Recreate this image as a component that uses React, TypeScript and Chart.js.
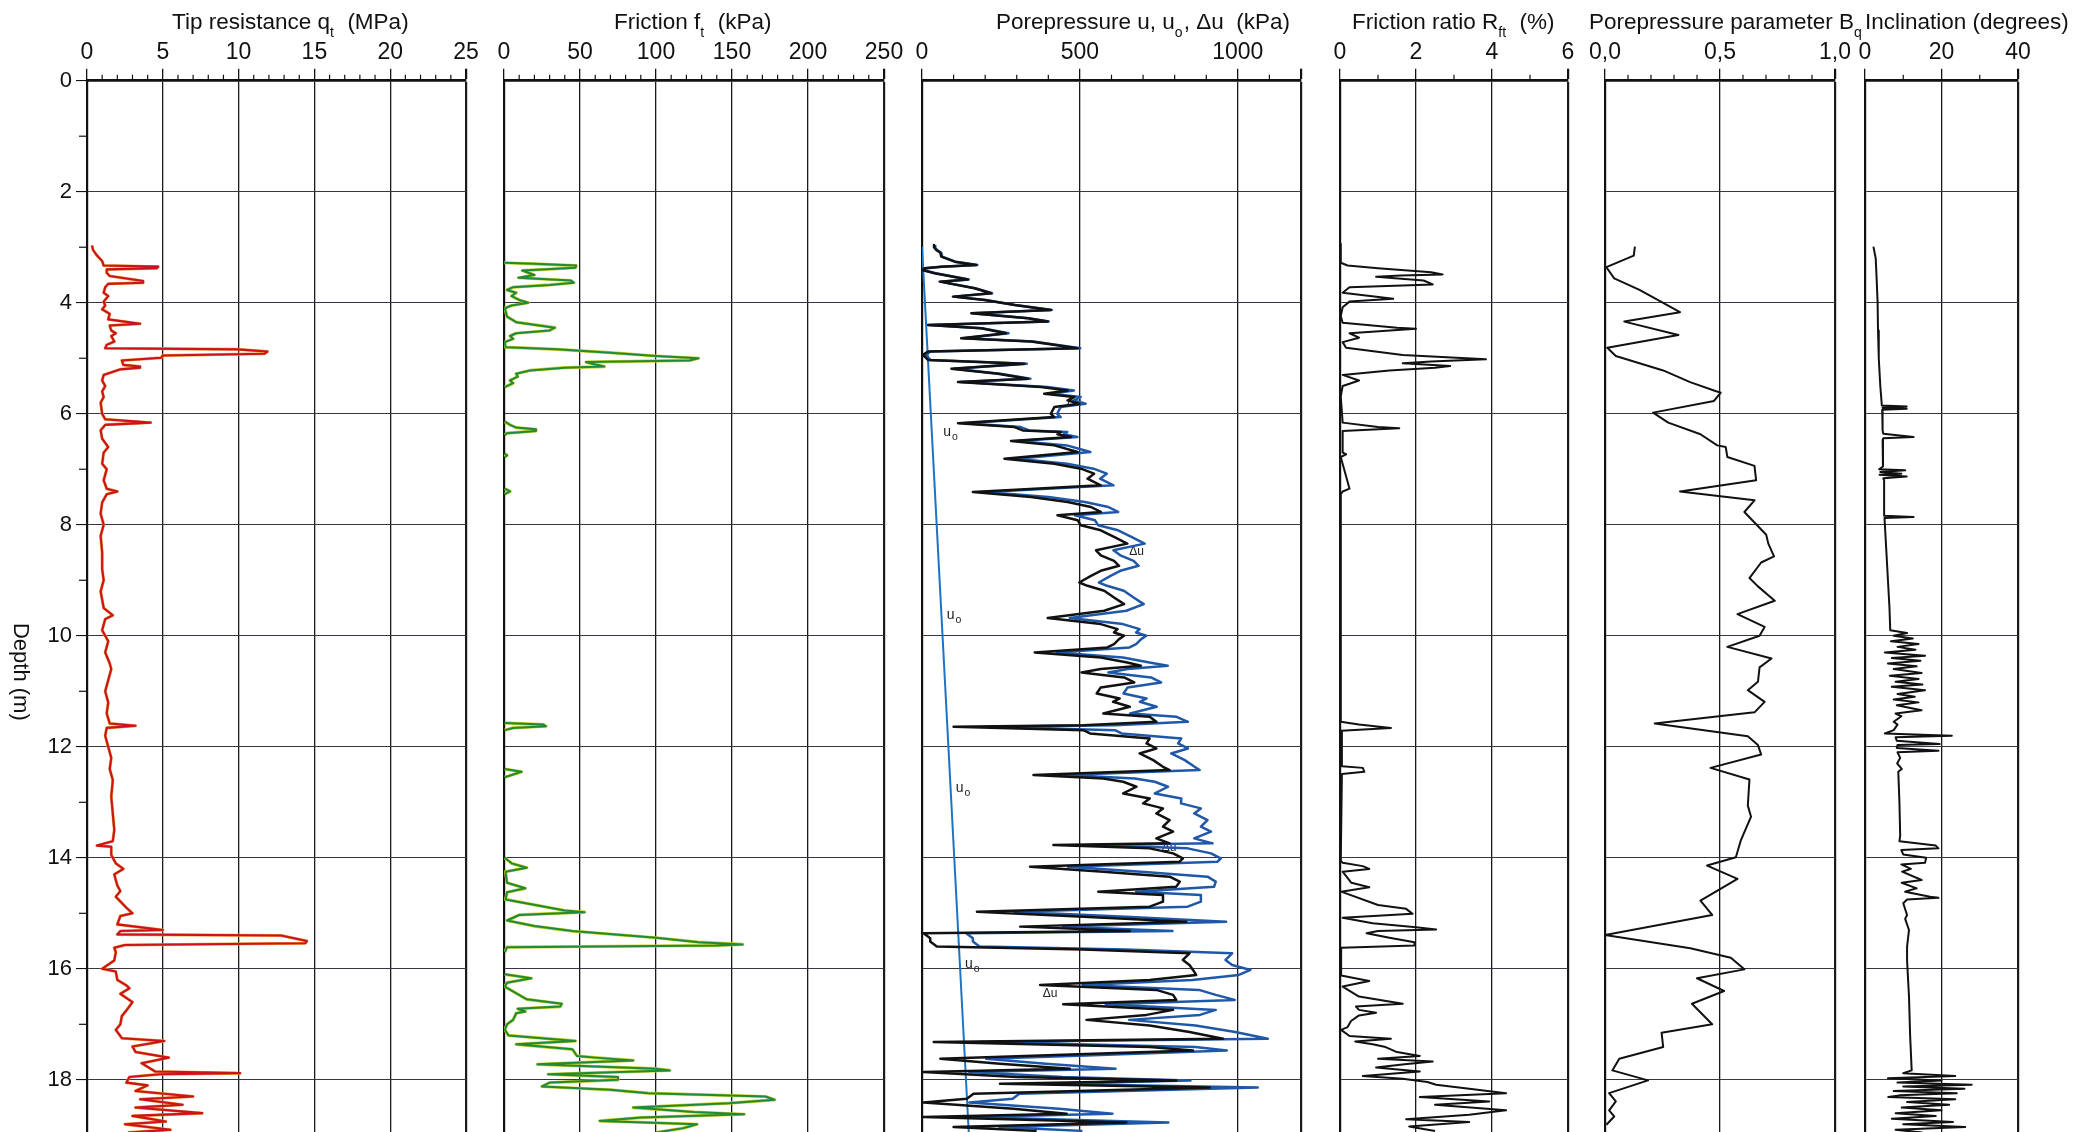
import React, { useEffect, useRef } from "react";
import { Chart, registerables } from "chart.js";

Chart.register(...registerables);

const W = 2075;
const H = 1132;
const TOP = 80.7;
const DEPTH_MAX = 18.94;

type Pt = [number, number | null]; // [depth m, value]

// Tick values of each axis
const depthTicks = [0, 2, 4, 6, 8, 10, 12, 14, 16, 18];
const qtTicks = [0, 5, 10, 15, 20, 25];
const ftTicks = [0, 50, 100, 150, 200, 250];
const poreTicks = [0, 500, 1000, 1200];
const rfTicks = [0, 2, 4, 6];
const bqTicks = [0, 0.5, 1];
const incTicks = [0, 20, 40];

// Tip resistance qt (MPa)
const qtTrace: Pt[] = [
  [2.97,0.33],[3.05,0.4],[3.15,0.66],[3.25,1.0],[3.33,1.1],[3.35,4.7],[3.38,4.6],[3.40,1.3],[3.46,1.3],[3.52,1.5],[3.61,3.7],[3.64,3.7],[3.66,1.4],[3.72,1.2],[3.82,1.1],[3.88,1.4],[3.98,1.1],[4.05,1.2],[4.12,1.0],[4.2,1.5],[4.3,1.4],[4.38,3.5],[4.41,1.5],[4.5,1.6],[4.55,1.9],[4.6,1.6],[4.7,1.8],[4.76,1.3],[4.82,1.2],[4.84,9.9],[4.88,11.9],[4.92,11.7],[4.95,5.0],[4.99,4.9],[5.04,2.3],[5.12,2.4],[5.15,3.5],[5.17,3.5],[5.2,2.2],[5.3,1.1],[5.4,1.0],[5.5,1.2],[5.6,1.0],[5.7,1.1],[5.8,0.9],[6.0,1.0],[6.1,1.2],[6.16,4.2],[6.2,1.2],[6.3,0.9],[6.45,1.0],[6.6,1.4],[6.7,1.1],[6.9,1.0],[7.0,1.3],[7.2,1.1],[7.35,1.3],[7.4,2.0],[7.45,1.3],[7.6,1.0],[7.8,0.9],[8.0,1.1],[8.2,0.9],[8.5,1.0],[8.8,1.0],[9.0,1.1],[9.2,0.9],[9.5,1.1],[9.63,1.7],[9.7,1.2],[9.9,1.0],[10.1,1.4],[10.3,1.2],[10.5,1.5],[10.6,1.6],[10.8,1.4],[11.0,1.2],[11.2,1.4],[11.4,1.3],[11.58,1.5],[11.62,3.2],[11.66,1.3],[11.8,1.2],[12.0,1.4],[12.2,1.6],[12.4,1.5],[12.6,1.7],[12.9,1.6],[13.2,1.7],[13.5,1.8],[13.7,1.7],[13.78,0.65],[13.8,1.6],[13.95,1.6],[14.1,1.9],[14.2,2.4],[14.3,1.8],[14.5,2.0],[14.6,2.2],[14.7,1.9],[14.9,2.6],[15.0,3.0],[15.05,2.2],[15.2,2.0],[15.3,5.0],[15.32,2.2],[15.38,2.0],[15.40,12.8],[15.50,14.5],[15.54,14.4],[15.57,2.5],[15.62,1.8],[15.7,1.9],[15.85,1.8],[16.0,1.0],[16.05,1.9],[16.2,2.0],[16.3,2.6],[16.35,2.8],[16.45,2.2],[16.6,3.0],[16.75,2.6],[16.85,2.3],[17.0,2.2],[17.1,1.9],[17.25,2.3],[17.3,5.1],[17.4,3.0],[17.5,3.2],[17.6,5.4],[17.7,3.6],[17.85,4.5],[17.88,10.1],[17.9,4.8],[17.95,2.8],[18.05,2.6],[18.1,4.0],[18.2,3.2],[18.3,7.0],[18.35,3.5],[18.45,6.3],[18.5,3.2],[18.6,7.6],[18.65,3.0],[18.75,5.2],[18.8,2.5],[18.9,5.5],[18.95,2.7]
];

// Friction ft (kPa)
const ftTrace: Pt[] = [
  [3.28,0],[3.30,20],[3.33,47.5],[3.37,47],[3.42,12],[3.5,20],[3.55,9.5],[3.6,44],[3.64,46],[3.68,30],[3.72,6],[3.77,2],[3.82,8],[3.88,5],[3.95,10],[4.0,16],[4.05,5],[4.1,0.5],[4.25,2],[4.35,8],[4.45,33.5],[4.5,30],[4.55,8],[4.6,4],[4.65,6],[4.71,0.5],[4.8,1],[4.84,35],[4.9,70],[4.96,100],[5.0,128],[5.04,122],[5.07,54],[5.1,58],[5.15,66],[5.17,40],[5.22,17],[5.28,8],[5.33,9],[5.40,4],[5.45,6],[5.52,0.5],[5.55,null],
  [6.14,0.5],[6.2,4],[6.25,8],[6.28,21],[6.31,21],[6.35,2],[6.38,0.5],[6.4,null],
  [6.72,0.5],[6.75,2],[6.78,0.5],[6.8,null],
  [7.35,0.5],[7.4,4],[7.45,0.5],[7.5,null],
  [11.57,0.5],[11.6,26],[11.63,27.6],[11.66,6],[11.7,0.5],[11.72,null],
  [12.4,0.5],[12.45,11.6],[12.5,6],[12.55,0.5],[12.6,null],
  [14.0,0.5],[14.1,5],[14.18,15],[14.25,1],[14.45,2],[14.55,14],[14.62,2],[14.75,1],[14.95,40],[14.98,53],[15.03,10],[15.13,2],[15.23,20],[15.32,45],[15.44,100],[15.52,128],[15.56,157],[15.58,140],[15.61,2],[15.7,0.5],[15.75,null],
  [16.1,0.5],[16.17,18],[16.25,2],[16.32,0.5],[16.55,15],[16.63,38],[16.68,37],[16.72,9],[16.77,14],[16.8,8],[16.92,6],[17.0,2],[17.1,0.5],[17.2,3],[17.3,47],[17.36,8],[17.45,45],[17.57,48],[17.6,60],[17.65,85],[17.72,22],[17.76,60],[17.8,100],[17.83,109],[17.9,29],[17.95,75],[18.0,75],[18.05,30],[18.12,25],[18.18,70],[18.24,95],[18.30,172],[18.36,178],[18.42,148],[18.5,85],[18.58,125],[18.62,158],[18.68,90],[18.74,63],[18.8,127],[18.87,118],[18.95,100]
];

// Excess pore pressure Δu (kPa), black
const duTrace: Pt[] = [
  [2.96,40],[3.0,38],[3.05,45],[3.1,58],[3.17,61],[3.26,103],[3.32,172],[3.35,60],[3.38,8],[3.41,0],[3.47,40],[3.58,145],[3.62,56],[3.74,166],[3.83,219],[3.89,98],[3.95,198],[4.04,293],[4.13,408],[4.19,156],[4.28,335],[4.34,398],[4.40,19],[4.46,187],[4.55,266],[4.64,124],[4.70,345],[4.82,493],[4.88,19],[4.94,3],[5.03,19],[5.10,324],[5.19,93],[5.28,240],[5.37,335],[5.43,114],[5.52,377],[5.58,461],[5.64,387],[5.70,482],[5.76,461],[5.82,498],[5.88,419],[6.00,408],[6.06,419],[6.17,114],[6.24,293],[6.30,319],[6.33,440],[6.37,429],[6.42,472],[6.49,282],[6.57,419],[6.69,493],[6.81,261],[6.90,419],[6.99,503],[7.08,545],[7.17,524],[7.29,566],[7.41,161],[7.50,345],[7.59,461],[7.68,535],[7.77,566],[7.83,429],[7.92,493],[8.01,503],[8.10,566],[8.22,608],[8.34,650],[8.46,551],[8.55,566],[8.65,608],[8.74,624],[8.83,566],[8.92,535],[9.04,498],[9.10,524],[9.19,577],[9.31,608],[9.43,640],[9.55,577],[9.68,398],[9.79,566],[9.88,619],[9.94,608],[10.00,640],[10.06,624],[10.15,608],[10.21,587],[10.30,357],[10.39,566],[10.48,650],[10.54,693],[10.60,566],[10.66,505],[10.75,640],[10.84,672],[10.93,566],
  [11.04,553],[11.13,626],[11.19,605],[11.28,658],[11.40,574],[11.46,721],[11.55,742],[11.61,511],[11.64,100],[11.70,511],[11.76,532],[11.85,721],[11.94,711],[12.03,742],[12.12,689],[12.24,732],[12.36,763],[12.42,784],[12.51,353],[12.57,574],[12.63,637],[12.72,679],[12.84,637],[12.93,721],[13.02,700],[13.11,763],[13.20,742],[13.32,784],[13.44,763],[13.53,795],[13.65,742],[13.74,784],[13.77,416],[13.83,721],[13.92,795],[14.01,826],[14.07,816],[14.16,342],[14.25,574],[14.34,784],[14.43,816],[14.52,805],[14.61,558],[14.67,763],[14.79,763],[14.88,721],[14.97,174],[15.06,511],[15.15,837],[15.24,311],[15.32,658],[15.36,5],[15.45,26],[15.51,26],[15.60,47],[15.65,511],[15.72,847],[15.84,826],[15.93,847],[16.02,858],[16.11,868],[16.20,721],[16.29,374],[16.38,742],[16.47,795],[16.56,805],[16.64,447],[16.74,795],[16.83,711],[16.92,521],[17.02,721],[17.14,847],[17.26,953],[17.32,37],[17.41,721],[17.47,858],[17.56,374],[17.62,58],[17.71,247],[17.80,468],[17.86,5],[17.95,300],[18.01,805],[18.07,247],[18.14,911],[18.25,163],[18.34,142],[18.41,5],[18.52,289],[18.61,458],[18.67,5],[18.77,647],[18.85,100],[18.92,363]
];

// Measured pore pressure u (kPa), blue
const uTrace: Pt[] = [
  [2.96,43],[3.0,41],[3.05,48],[3.1,61],[3.17,64],[3.26,106],[3.32,175],[3.35,63],[3.38,11],[3.41,3],[3.47,43],[3.58,148],[3.62,59],[3.74,169],[3.83,222],[3.89,101],[3.95,201],[4.04,296],[4.13,411],[4.19,159],[4.28,338],[4.34,401],[4.40,22],[4.46,190],[4.55,274],[4.64,132],[4.70,353],[4.82,501],[4.88,27],[4.94,11],[5.03,27],[5.10,332],[5.19,101],[5.28,248],[5.37,343],[5.43,122],[5.52,397],[5.58,481],[5.64,407],[5.70,502],[5.76,481],[5.82,518],[5.88,439],[6.00,428],[6.06,439],[6.17,134],[6.24,313],[6.30,339],[6.33,460],[6.37,449],[6.42,492],[6.49,302],[6.57,459],[6.69,533],[6.81,301],[6.90,459],[6.99,543],[7.08,585],[7.17,564],[7.29,606],[7.41,201],[7.50,400],[7.59,516],[7.68,590],[7.77,621],[7.83,484],[7.92,548],[8.01,558],[8.10,621],[8.22,663],[8.34,705],[8.46,606],[8.55,628],[8.65,670],[8.74,686],[8.83,628],[8.92,597],[9.04,560],[9.10,586],[9.19,639],[9.31,670],[9.43,702],[9.55,647],[9.68,468],[9.79,636],[9.88,689],[9.94,678],[10.00,710],[10.06,694],[10.15,678],[10.21,657],[10.30,427],[10.39,636],[10.48,720],[10.54,778],[10.60,651],[10.66,590],[10.75,725],[10.84,757],[10.93,651],
  [11.04,638],[11.13,711],[11.19,690],[11.28,743],[11.40,659],[11.46,806],[11.55,842],[11.61,611],[11.64,200],[11.70,611],[11.76,632],[11.85,821],[11.94,811],[12.03,842],[12.12,789],[12.24,832],[12.36,863],[12.42,879],[12.51,453],[12.57,674],[12.63,737],[12.72,779],[12.84,737],[12.93,821],[13.02,820],[13.11,883],[13.20,862],[13.32,904],[13.44,883],[13.53,915],[13.65,862],[13.74,920],[13.77,536],[13.83,841],[13.92,915],[14.01,946],[14.07,936],[14.16,462],[14.25,694],[14.34,904],[14.43,930],[14.52,925],[14.61,678],[14.67,883],[14.79,883],[14.88,841],[14.97,294],[15.06,646],[15.15,963],[15.24,446],[15.32,793],[15.36,140],[15.45,161],[15.51,161],[15.60,182],[15.65,646],[15.72,982],[15.84,961],[15.93,982],[16.02,1040],[16.11,1003],[16.20,856],[16.29,509],[16.38,877],[16.47,930],[16.56,990],[16.64,582],[16.74,930],[16.83,880],[16.92,656],[17.02,866],[17.14,992],[17.26,1095],[17.32,182],[17.41,866],[17.47,965],[17.56,519],[17.62,203],[17.71,392],[17.80,613],[17.86,150],[17.95,445],[18.01,850],[18.07,392],[18.14,1063],[18.25,308],[18.34,287],[18.41,150],[18.52,434],[18.61,603],[18.67,150],[18.77,780],[18.85,245],[18.92,508]
];

// Hydrostatic pore pressure u0 (kPa)
const u0Trace: Pt[] = [[2.99, 0], [18.94, 148]];

// Friction ratio Rft (%)
const rfTrace: Pt[] = [
  [2.94,0.02],[3.28,0.02],[3.33,0.2],[3.38,1.0],[3.45,2.4],[3.49,2.7],[3.51,1.6],[3.53,0.95],[3.60,2.2],[3.67,2.44],[3.72,0.25],[3.82,0.07],[3.93,1.4],[3.98,0.25],[4.08,0.07],[4.24,0.02],[4.36,0.07],[4.45,1.5],[4.47,2.0],[4.55,0.25],[4.63,0.5],[4.71,0.07],[4.81,0.16],[4.94,1.65],[5.02,3.84],[5.06,2.4],[5.09,1.65],[5.14,2.9],[5.17,2.5],[5.22,1.3],[5.30,0.07],[5.40,0.5],[5.46,0.25],[5.50,0.07],[5.69,0.02],[6.16,0.07],[6.24,1.0],[6.26,1.56],[6.31,0.07],[6.7,0.07],[6.73,0.16],[6.78,0.02],[7.35,0.25],[7.40,0.07],[7.45,0.02],[11.55,0.02],[11.6,0.5],[11.66,1.34],[11.71,0.03],[12.35,0.05],[12.38,0.6],[12.45,0.64],[12.49,0.05],[14.05,0.02],[14.09,0.07],[14.15,0.6],[14.2,0.77],[14.25,0.07],[14.45,0.3],[14.53,0.77],[14.61,0.03],[14.85,1.0],[14.92,1.74],[15.01,1.91],[15.08,0.07],[15.18,0.86],[15.25,2.0],[15.29,2.53],[15.32,1.0],[15.36,0.7],[15.44,1.3],[15.52,1.96],[15.58,1.96],[15.62,0.03],[16.12,0.03],[16.22,0.77],[16.32,0.07],[16.5,0.5],[16.63,1.65],[16.68,0.42],[16.74,0.5],[16.79,0.95],[16.84,0.5],[16.94,0.29],[17.05,0.2],[17.10,0.03],[17.21,0.25],[17.26,1.34],[17.31,0.4],[17.36,0.86],[17.41,1.2],[17.50,1.5],[17.57,2.1],[17.62,1.0],[17.67,2.44],[17.72,1.7],[17.78,0.95],[17.85,2.1],[17.93,0.6],[17.98,1.65],[18.04,2.3],[18.09,2.53],[18.16,3.4],[18.24,4.37],[18.31,2.1],[18.39,3.93],[18.45,2.5],[18.55,4.37],[18.63,3.4],[18.71,1.74],[18.76,3.4],[18.84,1.82],[18.92,2.5]
];

// Pore pressure parameter Bq
const bqTrace: Pt[] = [
  [2.99,0.13],[3.15,0.125],[3.36,0.006],[3.56,0.04],[3.77,0.15],[4.17,0.326],[4.34,0.084],[4.58,0.319],[4.81,0.01],[4.96,0.047],[5.22,0.253],[5.43,0.37],[5.59,0.48],[5.62,0.503],[5.77,0.474],[5.98,0.209],[6.16,0.275],[6.37,0.415],[6.57,0.488],[6.6,0.525],[6.78,0.532],[6.94,0.65],[7.20,0.657],[7.40,0.326],[7.56,0.65],[7.77,0.606],[8.18,0.701],[8.34,0.71],[8.57,0.735],[8.68,0.679],[8.96,0.628],[9.11,0.665],[9.37,0.738],[9.61,0.576],[9.84,0.694],[10.0,0.672],[10.20,0.532],[10.41,0.724],[10.57,0.672],[10.83,0.665],[10.98,0.621],[11.19,0.694],[11.38,0.65],[11.58,0.216],[11.81,0.621],[11.97,0.665],[12.14,0.679],[12.38,0.459],[12.59,0.628],[13.06,0.621],[13.26,0.635],[13.68,0.591],[13.99,0.569],[14.14,0.444],[14.38,0.576],[14.77,0.415],[15.03,0.466],[15.39,0.0],[15.63,0.371],[15.80,0.547],[16.01,0.606],[16.17,0.4],[16.40,0.518],[16.63,0.378],[17.0,0.466],[17.15,0.246],[17.41,0.253],[17.62,0.062],[17.83,0.032],[18.01,0.187],[18.24,0.018],[18.39,0.047],[18.55,0.018],[18.66,0.04],[18.81,0.006]
];

// Inclination (degrees)
const incTrace: Pt[] = [
  [2.99,2.2],[3.2,2.8],[3.5,3.0],[4.0,3.3],[4.5,3.4],[5.0,3.6],[5.5,4.0],[5.85,4.4],[5.87,10.9],[5.89,4.6],[5.91,10.9],[5.93,4.5],[6.3,4.6],[6.36,4.8],[6.42,12.7],[6.44,4.8],[6.47,4.6],[6.95,4.7],[7.0,3.7],[7.02,10.5],[7.05,4.0],[7.08,9.5],[7.1,3.8],[7.13,10.9],[7.16,4.8],[7.2,5.0],[7.84,5.0],[7.86,12.7],[7.88,5.1],[8.5,5.6],[9.0,6.0],[9.5,6.4],[9.9,6.6],[9.95,11.0],[10.0,7.5],[10.05,12.5],[10.1,6.8],[10.15,14.0],[10.2,8.5],[10.25,13.2],[10.3,5.2],[10.36,15.7],[10.4,7.0],[10.45,14.5],[10.5,6.0],[10.55,13.5],[10.6,7.5],[10.67,14.8],[10.72,6.5],[10.78,14.0],[10.83,8.0],[10.88,15.0],[10.92,7.0],[10.98,15.7],[11.05,8.5],[11.1,13.0],[11.15,7.5],[11.2,14.0],[11.25,8.3],[11.34,14.8],[11.4,8.0],[11.45,9.5],[11.55,7.5],[11.6,8.5],[11.7,7.5],[11.76,5.2],[11.8,22.7],[11.83,8.0],[11.89,8.3],[11.95,19.5],[11.97,8.5],[12.02,8.3],[12.07,19.2],[12.1,8.5],[12.2,9.2],[12.3,8.4],[12.4,9.6],[12.45,8.7],[13.0,9.0],[13.6,9.2],[13.7,9.0],[13.78,18.5],[13.83,19.2],[13.86,9.5],[13.94,10.0],[14.0,16.0],[14.09,15.7],[14.12,9.5],[14.2,12.0],[14.25,9.7],[14.4,14.8],[14.45,9.6],[14.55,13.5],[14.61,10.5],[14.7,17.0],[14.72,19.2],[14.75,11.0],[14.82,10.0],[15.03,11.0],[15.1,10.5],[15.3,11.5],[15.6,11.0],[15.85,11.0],[16.5,11.5],[17.2,11.8],[17.83,12.2],[17.88,10.0],[17.93,23.6],[17.97,6.0],[18.01,20.0],[18.05,8.5],[18.09,27.9],[18.12,10.0],[18.16,26.0],[18.2,7.5],[18.24,24.0],[18.28,9.0],[18.31,6.1],[18.35,23.6],[18.4,11.0],[18.45,22.0],[18.5,9.6],[18.55,20.0],[18.6,8.0],[18.65,18.5],[18.7,7.0],[18.76,23.0],[18.8,10.0],[18.85,26.2],[18.9,8.0],[18.95,15.0]
];

// Curve labels in the pore pressure panel: [depth, kPa]
const u0LabelPos: [number, number][] = [[6.32, 67], [9.61, 78], [12.72, 107], [15.9, 136]];
const duLabelPos: [number, number][] = [[5.78, 458], [8.47, 656], [13.8, 759], [16.44, 382]];

type Seg = [string, boolean]; // [text, subscript?]
const titleTip: Seg[] = [["Tip resistance q", false], ["t", true], ["  (MPa)", false]];
const titleFriction: Seg[] = [["Friction f", false], ["t", true], ["  (kPa)", false]];
const titlePore: Seg[] = [["Porepressure u, u", false], ["o", true], [", \u0394u  (kPa)", false]];
const titleRatio: Seg[] = [["Friction ratio R", false], ["ft", true], ["  (%)", false]];
const titleBq: Seg[] = [["Porepressure parameter B", false], ["q", true]];
const titleInc: Seg[] = [["Inclination (degrees)", false]];

const FONT = "'Liberation Sans', Arial, Helvetica, sans-serif";
const NARROW = "'Liberation Sans Narrow', 'Arial Narrow', 'Liberation Sans', Arial, sans-serif";

interface Series { data: Pt[]; color: string; width: number; order: number; }
interface Note { pos: [number, number][]; main: string; sub: string; size: number; }
interface PanelSpec {
  left: number; right: number; max: number; ticks: number[]; minor: number;
  titleStart: number; title: Seg[];
  fmt: (v: number) => string;
  series: Series[];
  depthAxis: boolean;
  notes?: Note[];
}

const intFmt = (v: number) => String(Math.round(v));

const panels: PanelSpec[] = [
  {
    left: 87, right: 466, max: 25, ticks: qtTicks, minor: 1, titleStart: 85, title: titleTip, fmt: intFmt, depthAxis: true,
    series: [
      { data: qtTrace, color: "#cc121c", width: 2.1, order: 1 },
      { data: qtTrace, color: "#eba040", width: 3.0, order: 2 },
    ],
  },
  {
    left: 504, right: 884, max: 250, ticks: ftTicks, minor: 10, titleStart: 110, title: titleFriction, fmt: intFmt, depthAxis: false,
    series: [
      { data: ftTrace, color: "#1f8a3a", width: 2, order: 1 },
      { data: ftTrace, color: "#c9cf2a", width: 3.2, order: 2 },
    ],
  },
  {
    left: 922, right: 1301, max: 1200, ticks: poreTicks, minor: 100, titleStart: 74, title: titlePore,
    fmt: (v) => (v > 1100 ? "" : intFmt(v)), depthAxis: false,
    series: [
      { data: duTrace, color: "#111111", width: 2.5, order: 1 },
      { data: uTrace, color: "#1f58a8", width: 2.5, order: 2 },
      { data: u0Trace, color: "#1c74c4", width: 2, order: 3 },
    ],
    notes: [
      { pos: u0LabelPos, main: "u", sub: "o", size: 14 },
      { pos: duLabelPos, main: "\u0394u", sub: "", size: 12 },
    ],
  },
  {
    left: 1340, right: 1568, max: 6, ticks: rfTicks, minor: 1, titleStart: 12, title: titleRatio, fmt: intFmt, depthAxis: false,
    series: [{ data: rfTrace, color: "#111111", width: 2, order: 1 }],
  },
  {
    left: 1605, right: 1835, max: 1, ticks: bqTicks, minor: 0.1, titleStart: -16, title: titleBq,
    fmt: (v) => v.toFixed(1).replace(".", ","), depthAxis: false,
    series: [{ data: bqTrace, color: "#111111", width: 2, order: 1 }],
  },
  {
    left: 1865, right: 2018, max: 40, ticks: incTicks, minor: 10, titleStart: 0, title: titleInc, fmt: intFmt, depthAxis: false,
    series: [{ data: incTrace, color: "#111111", width: 2, order: 1 }],
  },
];

function decoPlugin(p: PanelSpec) {
  return {
    id: "deco",
    beforeDatasetsDraw(chart: any) {
      if (!p.notes) return;
      const ctx = chart.ctx;
      const xs = chart.scales.x;
      const ys = chart.scales.y;
      ctx.save();
      ctx.fillStyle = "#222";
      ctx.textBaseline = "alphabetic";
      ctx.textAlign = "left";
      for (const n of p.notes) {
        for (const [d, v] of n.pos) {
          const px = xs.getPixelForValue(v);
          const py = ys.getPixelForValue(d);
          ctx.font = `${n.size}px ${FONT}`;
          ctx.fillText(n.main, px, py + n.size * 0.35);
          const w = ctx.measureText(n.main).width;
          if (n.sub) {
            ctx.font = `${n.size * 0.75}px ${FONT}`;
            ctx.fillText(n.sub, px + w + 1, py + n.size * 0.35 + 4);
          }
        }
      }
      ctx.restore();
    },
    afterDraw(chart: any) {
      const ctx = chart.ctx;
      const xs = chart.scales.x;
      const ys = chart.scales.y;
      const area = chart.chartArea;
      ctx.save();
      ctx.strokeStyle = "#111";
      ctx.lineWidth = 1.2;
      // minor ticks on the top axis
      const n = Math.round(p.max / p.minor);
      for (let i = 1; i < n; i++) {
        const v = i * p.minor;
        if (p.ticks.some((t) => Math.abs(t - v) < 1e-6)) continue;
        const px = xs.getPixelForValue(v);
        ctx.beginPath();
        ctx.moveTo(px, area.top);
        ctx.lineTo(px, area.top - 6);
        ctx.stroke();
      }
      // minor ticks on the depth axis
      if (p.depthAxis) {
        for (let d = 1; d < DEPTH_MAX; d += 2) {
          const py = ys.getPixelForValue(d);
          ctx.beginPath();
          ctx.moveTo(area.left, py);
          ctx.lineTo(area.left - 8, py);
          ctx.stroke();
        }
      }
      // panel title with subscripts
      ctx.fillStyle = "#111";
      ctx.textBaseline = "alphabetic";
      ctx.textAlign = "left";
      let x = area.left + p.titleStart;
      const base = 29;
      for (const [t, sub] of p.title) {
        ctx.font = sub ? `14px ${FONT}` : `22.5px ${FONT}`;
        ctx.fillText(t, x, sub ? base + 8 : base);
        x += ctx.measureText(t).width + (sub ? 1 : 0);
      }
      // depth axis title
      if (p.depthAxis) {
        ctx.translate(area.left - 67, ys.getPixelForValue(10.65));
        ctx.rotate(Math.PI / 2);
        ctx.textAlign = "center";
        ctx.textBaseline = "middle";
        ctx.font = `22px ${FONT}`;
        ctx.fillText("Depth (m)", 0, 0);
      }
      ctx.restore();
    },
  };
}

function buildConfig(p: PanelSpec): any {
  const yw = p.depthAxis ? p.left : 20;
  const isMax = (v: number) => Math.abs(v - p.max) < 1e-9;
  return {
    type: "scatter",
    data: {
      datasets: p.series.map((s) => ({
        data: s.data.map(([d, v]) => ({ x: v, y: d })),
        showLine: true,
        borderColor: s.color,
        backgroundColor: s.color,
        borderWidth: s.width,
        pointRadius: 0,
        pointHoverRadius: 0,
        tension: 0,
        spanGaps: false,
        order: s.order,
        borderJoinStyle: "round",
      })),
    },
    options: {
      responsive: false,
      animation: false,
      devicePixelRatio: 1,
      events: [],
      layout: { padding: { left: p.left - yw, right: W - p.right, top: 0, bottom: 0 } },
      plugins: { legend: { display: false }, tooltip: { enabled: false } },
      scales: {
        x: {
          type: "linear",
          position: "top",
          min: 0,
          max: p.max,
          afterBuildTicks: (s: any) => {
            s.ticks = p.ticks.map((v) => ({ value: v }));
          },
          ticks: {
            autoSkip: false,
            maxRotation: 0,
            padding: 2,
            color: "#111",
            font: { family: NARROW, size: 23 },
            callback: (v: any) => p.fmt(Number(v)),
          },
          grid: {
            color: (c: any) => (c.tick && c.tick.value === 0 ? "rgba(0,0,0,0)" : "#1a1a1a"),
            lineWidth: (c: any) => (c.tick && isMax(c.tick.value) ? 2.2 : 1.3),
            tickColor: "#111",
            tickLength: 12,
            drawTicks: true,
          },
          border: { display: true, color: "#111", width: 2.8 },
          afterFit: (s: any) => {
            s.height = TOP;
            s.paddingLeft = 0;
            s.paddingRight = 0;
          },
        },
        y: {
          type: "linear",
          position: "left",
          reverse: true,
          min: 0,
          max: DEPTH_MAX,
          afterBuildTicks: (s: any) => {
            s.ticks = depthTicks.map((v) => ({ value: v }));
          },
          ticks: {
            display: p.depthAxis,
            autoSkip: false,
            padding: 4,
            color: "#111",
            font: { family: FONT, size: 22 },
            callback: (v: any) => String(v),
          },
          grid: {
            color: (c: any) => (c.tick && c.tick.value === 0 ? "rgba(0,0,0,0)" : "#3b3340"),
            lineWidth: 1.1,
            tickColor: "#111",
            tickLength: 11,
            drawTicks: p.depthAxis,
          },
          border: { display: true, color: "#111", width: 2.2 },
          afterFit: (s: any) => {
            s.width = yw;
            s.paddingTop = 0;
            s.paddingBottom = 0;
          },
        },
      },
    },
    plugins: [decoPlugin(p)],
  };
}

function Panel({ spec }: { spec: PanelSpec }) {
  const ref = useRef<HTMLCanvasElement | null>(null);
  useEffect(() => {
    if (!ref.current) return;
    const chart = new Chart(ref.current, buildConfig(spec));
    return () => chart.destroy();
  }, [spec]);
  return (
    <canvas
      ref={ref}
      width={W}
      height={H}
      style={{ position: "absolute", left: 0, top: 0, width: W, height: H }}
    />
  );
}

export default function App() {
  return (
    <div
      style={{
        position: "absolute",
        left: 0,
        top: 0,
        width: W,
        height: H,
        background: "#ffffff",
        overflow: "hidden",
      }}
    >
      {panels.map((p, i) => (
        <Panel key={i} spec={p} />
      ))}
    </div>
  );
}
